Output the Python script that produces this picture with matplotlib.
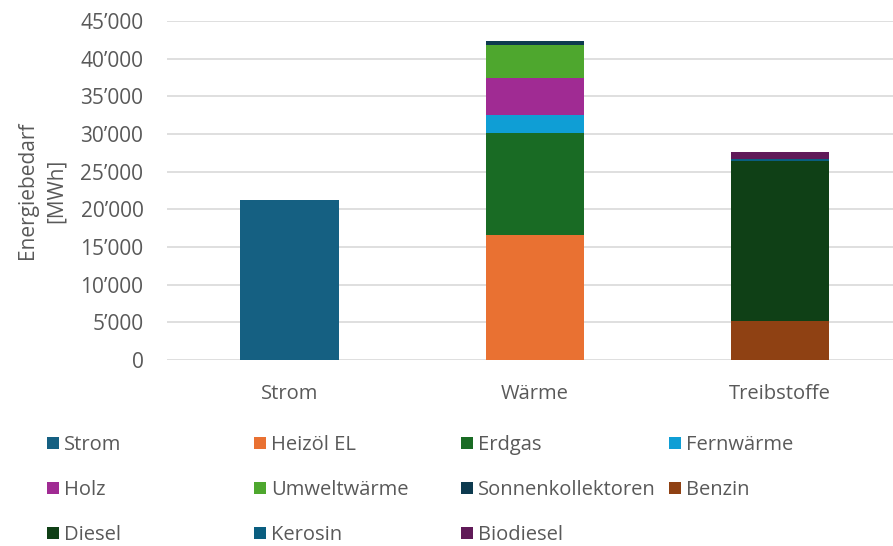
import matplotlib
matplotlib.use("Agg")
import matplotlib.pyplot as plt
from matplotlib.patches import Patch
from matplotlib.ticker import FuncFormatter, MultipleLocator

plt.rcParams["font.family"] = ["Open Sans", "DejaVu Sans"]

categories = ["Strom", "Wärme", "Treibstoffe"]
carriers = ["Strom", "Heizöl EL", "Erdgas", "Fernwärme", "Holz", "Umweltwärme",
            "Sonnenkollektoren", "Benzin", "Diesel", "Kerosin", "Biodiesel"]
# MWh per category (Strom, Wärme, Treibstoffe)
values = {
    "Strom":             [21200, 0, 0],
    "Heizöl EL":         [0, 16600, 0],
    "Erdgas":            [0, 13500, 0],
    "Fernwärme":         [0, 2400, 0],
    "Holz":              [0, 4950, 0],
    "Umweltwärme":       [0, 4350, 0],
    "Sonnenkollektoren": [0, 530, 0],
    "Benzin":            [0, 0, 5200],
    "Diesel":            [0, 0, 21150],
    "Kerosin":           [0, 0, 300],
    "Biodiesel":         [0, 0, 1000],
}
colors = ["#156082", "#E97132", "#196B24", "#0F9ED5", "#A02B93", "#4EA72E",
          "#0D3A4F", "#8F4113", "#0F4016", "#0A5E80", "#601A58"]

text_color = "#595959"
fs = 14.5
W, H = 893, 546
fig = plt.figure(figsize=(W / 100, H / 100), dpi=100)
ax = fig.add_axes([0.187, 0.3407, 0.813, 0.6208])

x = range(len(categories))
bottom = [0, 0, 0]
handles = []
for name, col in zip(carriers, colors):
    vals = values[name]
    ax.bar(x, vals, width=0.4, bottom=bottom, color=col, zorder=3)
    bottom = [b + v for b, v in zip(bottom, vals)]
    handles.append(Patch(facecolor=col, label=name))

ax.set_ylim(0, 45000)
ax.set_xlim(-0.5, 2.463)
ax.yaxis.set_major_locator(MultipleLocator(5000))
ax.yaxis.set_major_formatter(FuncFormatter(lambda v, p: "0" if v == 0 else f"{int(v):,}".replace(",", "\u2019")))
ax.grid(axis="y", color="#D9D9D9", linewidth=1.2, zorder=0)
for s in ax.spines.values():
    s.set_visible(False)
ax.tick_params(length=0, labelsize=fs, colors=text_color)
ax.tick_params(axis="y", labelsize=15, pad=17)
ax.tick_params(axis="x", pad=17)
ax.set_xticks(list(x))
ax.set_xticklabels(categories)
ax.set_ylabel("Energiebedarf\n[MWh]", fontsize=15, color=text_color, linespacing=1.5)
ax.yaxis.set_label_coords(-0.138, 0.5)

# legend: 4 equal columns, filled row by row
col_px = [47, 254, 461, 669]
row_px = [445, 490, 535]
for i, h in enumerate(handles):
    r, c = divmod(i, 4)
    fig.legend(handles=[h], loc="center left",
               bbox_to_anchor=(col_px[c] / W, 1 - row_px[r] / H),
               frameon=False, fontsize=fs, labelcolor=text_color,
               handlelength=0.6, handleheight=0.6, handletextpad=0.25,
               borderpad=0, borderaxespad=0)

fig.savefig("out.png", dpi=100)
